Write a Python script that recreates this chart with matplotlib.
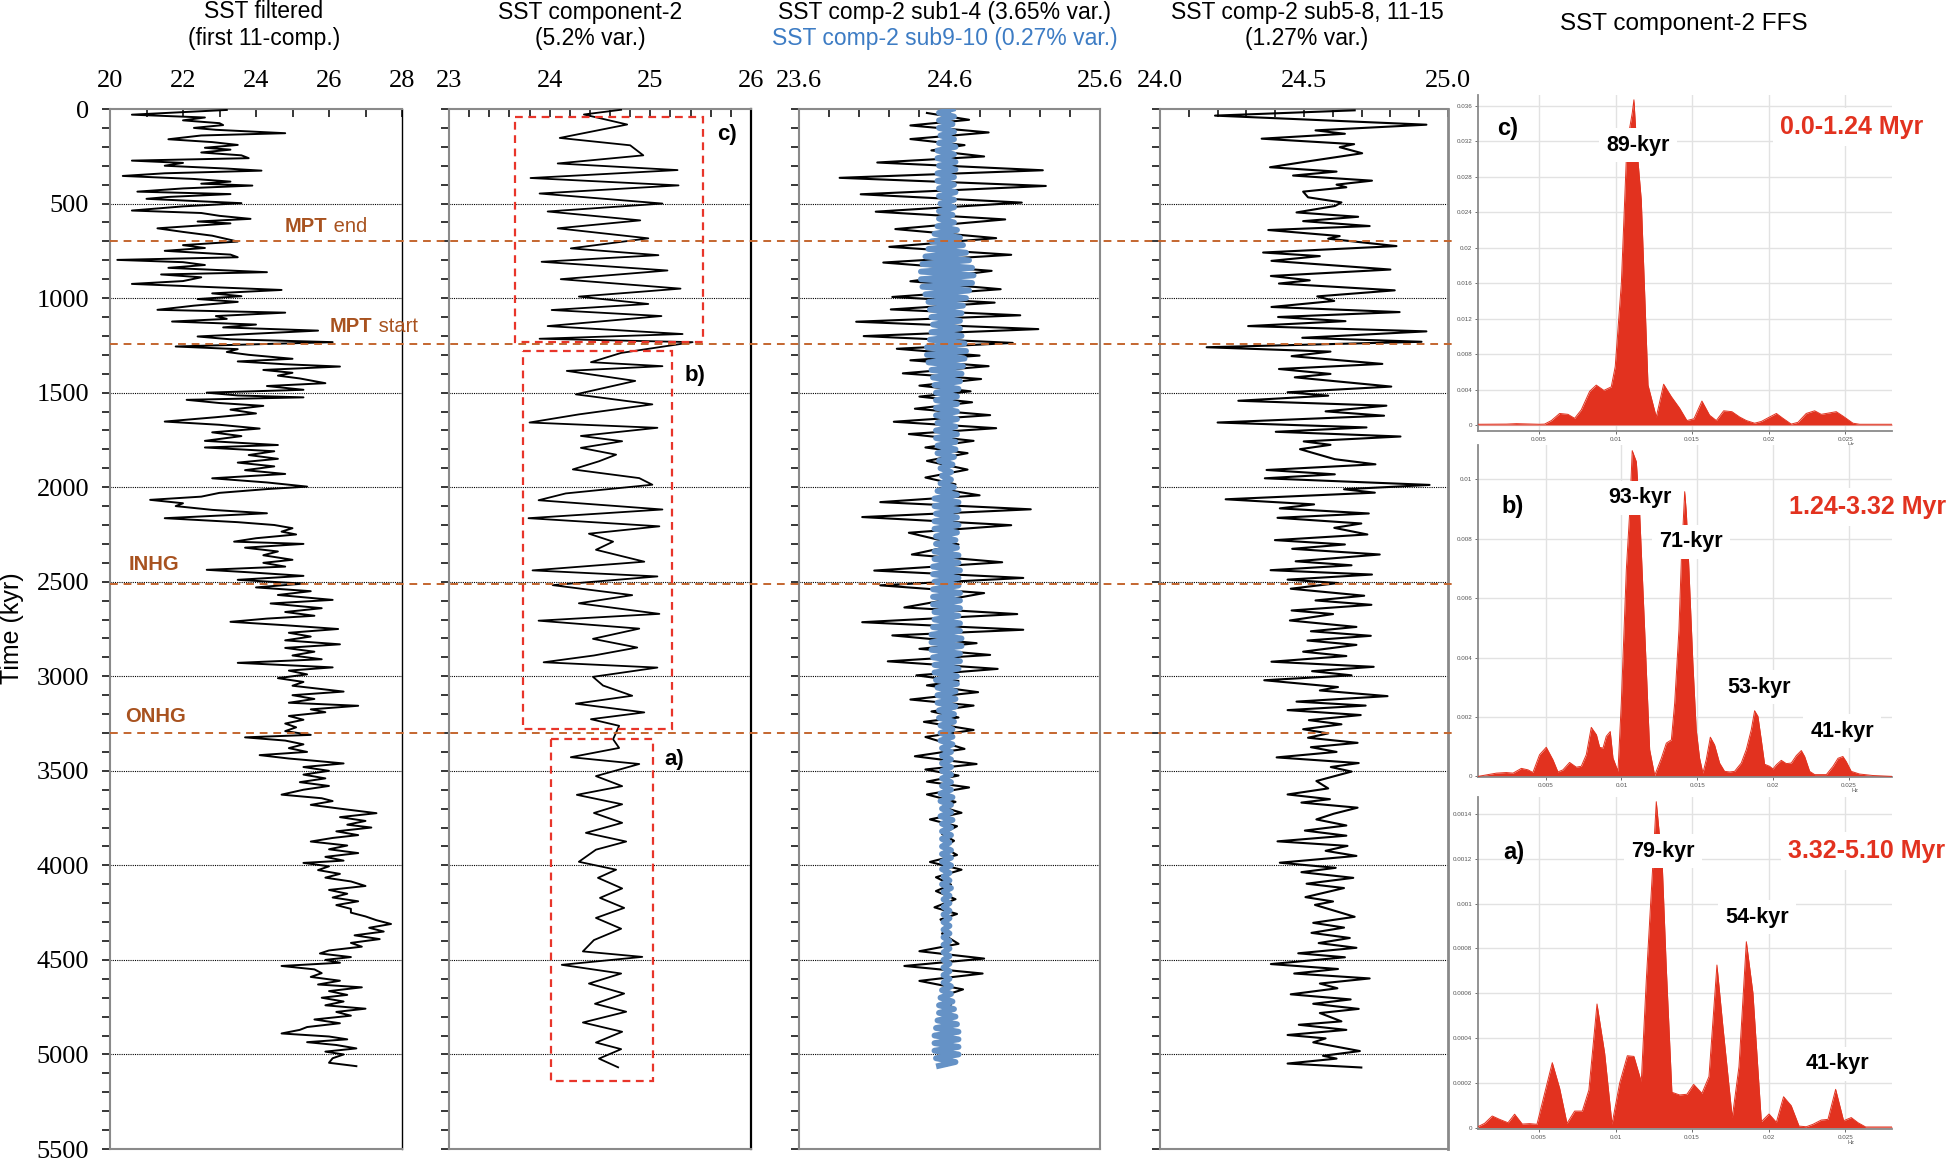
import numpy as np
import matplotlib
matplotlib.use('Agg')
import matplotlib.pyplot as plt
from matplotlib.lines import Line2D
from matplotlib.patches import Rectangle
from matplotlib.transforms import blended_transform_factory

# ---------------- data ----------------
# Panel 1: SST filtered (time kyr, SST degC)
sst_filtered = [(5, 23.2), (30, 20.6), (45, 22.6), (60, 22.0), (75, 23.0), (85, 23.1), (100, 22.3), (110, 22.9),
    (128, 24.8), (140, 22.5), (160, 21.6), (175, 22.8), (190, 23.5), (205, 22.6), (215, 23.3), (230, 22.5),
    (245, 23.6), (260, 23.8), (273, 20.6), (285, 22.0), (300, 21.5), (315, 23.2), (326, 24.15), (340, 21.5),
    (354, 20.35), (370, 22.3), (384, 23.3), (395, 22.5), (405, 23.9), (420, 22.0), (437, 20.75), (450, 23.3),
    (465, 21.6), (475, 21.0), (498, 23.6), (515, 22.0), (537, 20.6), (550, 22.5), (565, 23.0), (581, 23.85),
    (595, 22.4), (605, 23.3), (631, 21.3), (650, 22.0), (670, 22.8), (701, 23.5), (720, 22.0), (735, 22.6),
    (750, 21.5), (770, 23.3), (784, 23.5), (798, 20.2), (810, 22.0), (825, 22.6), (840, 21.6), (863, 24.3),
    (875, 21.4), (890, 22.5), (910, 22.0), (925, 20.6), (940, 22.5), (957, 24.7), (975, 22.8), (990, 23.6),
    (1005, 22.4), (1020, 23.5), (1040, 22.3), (1062, 21.3), (1077, 24.8), (1095, 22.9), (1110, 23.2),
    (1124, 21.7), (1140, 24.0), (1155, 23.1), (1172, 25.7), (1188, 24.0), (1203, 22.4), (1218, 23.3),
    (1233, 26.1), (1256, 21.8), (1270, 23.5), (1285, 23.2), (1300, 23.8), (1321, 25.0), (1335, 23.5),
    (1350, 24.8), (1362, 26.3), (1380, 24.2), (1395, 25.0), (1410, 24.6), (1425, 25.2), (1450, 25.9),
    (1465, 24.3), (1485, 25.3), (1500, 22.65), (1515, 23.5), (1525, 25.3), (1538, 22.1), (1555, 23.0),
    (1570, 24.2), (1590, 23.3), (1610, 24.0), (1630, 22.9), (1653, 21.5), (1670, 23.0), (1690, 24.1),
    (1710, 22.8), (1730, 23.6), (1755, 22.6), (1777, 24.6), (1790, 22.6), (1810, 24.5), (1830, 23.8),
    (1850, 24.6), (1870, 23.5), (1890, 24.5), (1910, 23.7), (1930, 24.8), (1953, 22.8), (1975, 24.3),
    (1997, 25.4), (2010, 24.3), (2030, 23.0), (2050, 22.5), (2067, 21.1), (2085, 22.0), (2100, 21.8),
    (2120, 22.8), (2138, 24.3), (2150, 23.0), (2164, 21.5), (2185, 23.5), (2200, 24.5), (2217, 25.0),
    (2235, 24.7), (2250, 25.1), (2270, 24.0), (2288, 23.4), (2300, 25.3), (2320, 23.7), (2340, 24.6),
    (2360, 24.2), (2384, 25.0), (2400, 24.2), (2420, 24.8), (2437, 22.65), (2450, 23.8), (2469, 25.3),
    (2490, 23.5), (2510, 25.3), (2530, 24.0), (2550, 25.5), (2570, 24.6), (2596, 26.1), (2615, 24.4),
    (2640, 25.8), (2660, 24.8), (2680, 25.6), (2695, 24.3), (2712, 23.3), (2730, 24.8), (2750, 26.25),
    (2770, 24.9), (2790, 25.5), (2810, 24.8), (2831, 26.3), (2850, 24.8), (2870, 25.6), (2890, 25.0),
    (2910, 25.8), (2929, 23.5), (2953, 26.1), (2970, 24.9), (2990, 25.4), (3010, 24.6), (3030, 25.3),
    (3050, 25.0), (3081, 26.4), (3100, 25.0), (3120, 25.6), (3140, 24.9), (3156, 26.8), (3175, 25.5),
    (3190, 25.9), (3210, 24.9), (3230, 25.3), (3250, 24.8), (3270, 25.1), (3290, 24.8), (3310, 25.5),
    (3323, 23.7), (3340, 24.8), (3360, 25.3), (3380, 24.9), (3400, 25.4), (3417, 24.1), (3435, 24.9),
    (3445, 25.5), (3461, 26.4), (3480, 25.3), (3500, 26.0), (3520, 25.3), (3540, 25.9), (3560, 25.2),
    (3580, 26.0), (3600, 25.3), (3626, 24.7), (3645, 25.8), (3660, 26.1), (3680, 25.5), (3700, 26.3),
    (3724, 27.3), (3745, 26.3), (3765, 27.0), (3785, 26.5), (3800, 27.16), (3820, 26.2), (3840, 26.8),
    (3855, 26.1), (3874, 25.5), (3895, 26.5), (3915, 26.0), (3935, 26.8), (3955, 25.9), (3975, 26.4),
    (3987, 25.3), (4005, 26.0), (4025, 25.7), (4045, 26.3), (4065, 25.9), (4085, 26.6), (4109, 27.0),
    (4130, 26.0), (4150, 26.5), (4170, 26.1), (4190, 26.8), (4210, 26.2), (4230, 26.6), (4250, 26.6),
    (4270, 27.0), (4290, 27.3), (4310, 27.7), (4330, 27.1), (4350, 27.5), (4370, 26.7), (4390, 27.39),
    (4410, 26.6), (4430, 26.9), (4450, 26.0), (4466, 25.75), (4485, 26.6), (4500, 25.9), (4515, 26.3),
    (4532, 24.7), (4550, 25.6), (4570, 25.8), (4590, 25.5), (4610, 26.3), (4630, 25.7), (4645, 26.9),
    (4665, 26.0), (4685, 26.5), (4700, 25.8), (4720, 26.4), (4740, 25.9), (4758, 27.0), (4775, 26.2),
    (4795, 26.6), (4815, 25.6), (4835, 26.3), (4855, 25.4), (4870, 25.2), (4889, 24.7), (4905, 26.0),
    (4920, 26.5), (4935, 25.4), (4950, 26.2), (4968, 26.75), (4985, 25.9), (5000, 26.4), (5020, 26.1),
    (5044, 26.0), (5062, 26.75)]

# Panel 2: SST component-2
comp2_t = [4, 29, 82, 153, 192, 245, 288, 323, 365, 404, 447, 500, 542, 589, 631, 684, 737, 773, 808, 854,
    900, 950, 992, 1031, 1063, 1095, 1148, 1190, 1215, 1233, 1290, 1339, 1360, 1385, 1438, 1509, 1562, 1615,
    1658, 1686, 1729, 1757, 1792, 1828, 1863, 1906, 1952, 1987, 2033, 2069, 2118, 2164, 2207, 2246, 2288,
    2331, 2394, 2440, 2472, 2518, 2571, 2614, 2670, 2706, 2748, 2802, 2848, 2890, 2926, 2954, 3003, 3049,
    3103, 3145, 3191, 3227, 3262, 3333, 3379, 3428, 3464, 3528, 3581, 3627, 3677, 3723, 3775, 3828, 3874,
    3917, 3981, 4023, 4066, 4122, 4172, 4225, 4278, 4335, 4395, 4455, 4484, 4526, 4572, 4625, 4678, 4732,
    4774, 4831, 4880, 4937, 4972, 5022, 5068]
comp2_v = [24.71, 24.34, 24.77, 24.10, 24.80, 24.93, 24.08, 25.27, 23.81, 25.28, 23.90, 25.12, 23.98, 24.90,
    24.08, 24.98, 24.21, 25.08, 23.92, 25.17, 24.11, 25.30, 24.29, 24.98, 24.02, 25.11, 23.98, 25.32, 23.90,
    25.42, 24.71, 24.41, 25.12, 24.17, 24.85, 24.26, 25.02, 24.29, 23.80, 25.07, 24.31, 24.72, 24.31, 24.66,
    24.49, 24.23, 24.89, 25.02, 24.16, 23.89, 25.12, 23.79, 25.09, 24.39, 24.63, 24.46, 24.94, 23.83, 25.07,
    24.03, 24.82, 24.29, 25.09, 23.89, 24.89, 24.43, 24.87, 24.44, 23.94, 25.07, 24.43, 24.53, 24.82, 24.26,
    24.94, 24.41, 24.69, 24.63, 24.69, 24.21, 24.89, 24.46, 24.72, 24.27, 24.72, 24.44, 24.72, 24.36, 24.76,
    24.46, 24.29, 24.66, 24.48, 24.72, 24.50, 24.74, 24.46, 24.71, 24.44, 24.33, 24.92, 24.12, 24.71, 24.39,
    24.74, 24.45, 24.76, 24.33, 24.72, 24.46, 24.71, 24.49, 24.68]

# Panel 3: sub1-4 (black)
sub14_t = [21, 57, 87, 124, 159, 191, 219, 251, 283, 324, 364, 407, 451, 495, 543, 584, 635, 683, 729, 771,
    812, 856, 911, 953, 994, 1024, 1060, 1091, 1125, 1164, 1201, 1237, 1268, 1304, 1329, 1360, 1398, 1428,
    1463, 1493, 1521, 1551, 1585, 1619, 1654, 1688, 1719, 1755, 1790, 1820, 1861, 1907, 1949, 1985, 2008,
    2043, 2079, 2117, 2158, 2201, 2241, 2303, 2356, 2397, 2441, 2480, 2519, 2560, 2636, 2671, 2714, 2754,
    2784, 2825, 2855, 2887, 2921, 2961, 2995, 3025, 3048, 3084, 3123, 3155, 3186, 3218, 3241, 3284, 3321,
    3384, 3423, 3464, 3493, 3525, 3557, 3588, 3625, 3664, 3691, 3722, 3757, 3793, 3834, 3870, 3905, 3945,
    3982, 4023, 4063, 4102, 4136, 4179, 4222, 4257, 4286, 4325, 4361, 4415, 4454, 4493, 4532, 4572, 4611,
    4656, 4697, 4736, 4781, 4825, 4870, 4915, 4959, 5004, 5057]
sub14_v = [24.45, 24.73, 24.34, 24.86, 24.34, 24.70, 24.48, 24.83, 24.12, 25.22, 23.87, 25.24, 24.01, 25.08,
    24.11, 24.97, 24.24, 24.91, 24.20, 25.01, 24.16, 24.88, 24.34, 24.94, 24.22, 24.90, 24.21, 25.07, 23.98,
    25.19, 24.03, 25.02, 24.25, 24.80, 24.34, 24.86, 24.29, 24.81, 24.40, 24.74, 24.40, 24.75, 24.37, 24.87,
    24.23, 24.91, 24.33, 24.76, 24.44, 24.72, 24.45, 24.72, 24.44, 24.64, 24.53, 24.80, 24.14, 25.14, 24.02,
    25.01, 24.33, 24.66, 24.35, 24.95, 24.10, 25.09, 24.14, 24.83, 24.30, 25.05, 24.02, 25.09, 24.22, 24.78,
    24.40, 24.87, 24.19, 24.92, 24.38, 24.66, 24.45, 24.79, 24.34, 24.76, 24.48, 24.66, 24.43, 24.76, 24.44,
    24.70, 24.37, 24.78, 24.44, 24.66, 24.45, 24.73, 24.45, 24.64, 24.55, 24.68, 24.47, 24.65, 24.55, 24.63,
    24.56, 24.65, 24.47, 24.68, 24.51, 24.61, 24.51, 24.64, 24.50, 24.65, 24.54, 24.60, 24.55, 24.66, 24.40,
    24.83, 24.30, 24.82, 24.40, 24.69, 24.53, 24.61, 24.56, 24.60, 24.56, 24.60, 24.56, 24.60, 24.58]

# Panel 3: sub9-10 (blue), turning points every 20 kyr, deviation from its mean level
sub910_step = 20
sub910_mean = 24.58
sub910_dev = [
    0.04, -0.05, 0.05, -0.05, 0.04, -0.05, 0.05, -0.04, 0.05, -0.05,
    0.06, -0.06, 0.05, -0.06, 0.06, -0.05, 0.06, -0.06, 0.05, -0.06,
    0.05, -0.05, 0.06, -0.05, 0.05, -0.04, 0.05, -0.05, 0.04, -0.05,
    0.05, -0.06, 0.07, -0.08, 0.09, -0.10, 0.11, -0.12, 0.13, -0.14,
    0.15, -0.16, 0.17, -0.17, 0.18, -0.17, 0.17, -0.16, 0.15, -0.14,
    0.13, -0.12, 0.11, -0.11, 0.10, -0.10, 0.09, -0.09, 0.09, -0.10,
    0.10, -0.11, 0.12, -0.13, 0.13, -0.13, 0.12, -0.12, 0.11, -0.10,
    0.10, -0.09, 0.09, -0.08, 0.08, -0.07, 0.07, -0.07, 0.07, -0.07,
    0.07, -0.07, 0.07, -0.06, 0.06, -0.07, 0.07, -0.07, 0.06, -0.06,
    0.06, -0.06, 0.05, -0.05, 0.04, -0.04, 0.03, -0.03, 0.03, -0.04,
    0.05, -0.06, 0.07, -0.08, 0.08, -0.08, 0.08, -0.07, 0.07, -0.08,
    0.08, -0.08, 0.07, -0.07, 0.06, -0.07, 0.07, -0.08, 0.08, -0.08,
    0.08, -0.09, 0.09, -0.09, 0.08, -0.08, 0.08, -0.09, 0.09, -0.09,
    0.09, -0.09, 0.09, -0.08, 0.08, -0.08, 0.09, -0.09, 0.09, -0.10,
    0.10, -0.10, 0.10, -0.10, 0.09, -0.09, 0.09, -0.08, 0.08, -0.08,
    0.07, -0.07, 0.07, -0.06, 0.06, -0.06, 0.06, -0.06, 0.06, -0.05,
    0.05, -0.05, 0.05, -0.04, 0.04, -0.04, 0.04, -0.04, 0.04, -0.03,
    0.03, -0.03, 0.03, -0.03, 0.03, -0.03, 0.03, -0.03, 0.03, -0.03,
    0.03, -0.04, 0.04, -0.04, 0.03, -0.03, 0.03, -0.04, 0.04, -0.03,
    0.03, -0.03, 0.03, -0.03, 0.02, -0.03, 0.03, -0.03, 0.03, -0.03,
    0.03, -0.03, 0.02, -0.02, 0.02, -0.03, 0.03, -0.02, 0.02, -0.02,
    0.02, -0.02, 0.02, -0.02, 0.02, -0.02, 0.02, -0.02, 0.02, -0.02,
    0.02, -0.02, 0.02, -0.02, 0.02, -0.02, 0.02, -0.02, 0.02, -0.02,
    0.02, -0.02, 0.03, -0.03, 0.03, -0.04, 0.04, -0.05, 0.05, -0.05,
    0.06, -0.06, 0.07, -0.07, 0.08, -0.08, 0.08, -0.08, 0.08, -0.08,
    0.08, -0.07, 0.06, -0.05]

# Panel 4: sub5-8, 11-15
sub58_t = [7, 35, 83, 113, 131, 157, 186, 202, 234, 278, 308, 331, 352, 379, 400, 414, 437, 467, 494, 513,
    547, 570, 593, 619, 640, 672, 686, 725, 759, 778, 803, 849, 883, 906, 923, 959, 991, 1015, 1047, 1074,
    1100, 1122, 1148, 1176, 1210, 1231, 1260, 1283, 1307, 1348, 1375, 1401, 1419, 1468, 1498, 1516, 1543,
    1569, 1599, 1622, 1658, 1684, 1707, 1732, 1758, 1776, 1799, 1852, 1879, 1909, 1932, 1953, 1988, 2011,
    2029, 2064, 2091, 2112, 2139, 2162, 2192, 2215, 2250, 2280, 2303, 2326, 2356, 2392, 2413, 2439, 2462,
    2489, 2507, 2537, 2574, 2599, 2622, 2652, 2671, 2705, 2739, 2762, 2786, 2811, 2834, 2870, 2893, 2923,
    2950, 2973, 2995, 3021, 3057, 3075, 3105, 3134, 3155, 3179, 3205, 3232, 3254, 3280, 3302, 3325, 3352,
    3375, 3400, 3429, 3459, 3480, 3504, 3554, 3593, 3625, 3650, 3668, 3695, 3727, 3757, 3789, 3816, 3843,
    3873, 3897, 3923, 3950, 3986, 4013, 4036, 4066, 4097, 4120, 4168, 4191, 4209, 4272, 4304, 4329, 4357,
    4384, 4411, 4436, 4465, 4486, 4522, 4548, 4572, 4598, 4625, 4650, 4682, 4709, 4732, 4759, 4781, 4825,
    4843, 4870, 4897, 4915, 4936, 4982, 5007, 5022, 5048, 5069]
sub58_v = [24.676, 24.191, 24.925, 24.540, 24.642, 24.353, 24.674, 24.624, 24.702, 24.509,
    24.382, 24.613, 24.462, 24.736, 24.613, 24.647, 24.497, 24.514, 24.630, 24.607,
    24.474, 24.688, 24.497, 24.728, 24.376, 24.624, 24.584, 24.821, 24.358, 24.555,
    24.387, 24.800, 24.385, 24.520, 24.413, 24.815, 24.546, 24.605, 24.387, 24.832,
    24.410, 24.644, 24.306, 24.925, 24.494, 24.908, 24.162, 24.592, 24.457, 24.772,
    24.413, 24.592, 24.468, 24.803, 24.443, 24.584, 24.272, 24.786, 24.575, 24.778,
    24.200, 24.717, 24.402, 24.835, 24.499, 24.592, 24.486, 24.607, 24.748, 24.370,
    24.607, 24.364, 24.936, 24.639, 24.746, 24.228, 24.535, 24.416, 24.725, 24.408,
    24.699, 24.605, 24.720, 24.399, 24.642, 24.459, 24.763, 24.471, 24.665, 24.384,
    24.736, 24.443, 24.618, 24.454, 24.709, 24.540, 24.734, 24.457, 24.601, 24.451,
    24.682, 24.524, 24.732, 24.512, 24.682, 24.497, 24.647, 24.387, 24.742, 24.528,
    24.665, 24.362, 24.618, 24.555, 24.790, 24.474, 24.714, 24.443, 24.697, 24.517,
    24.630, 24.497, 24.584, 24.514, 24.686, 24.524, 24.613, 24.405, 24.690, 24.593,
    24.665, 24.543, 24.584, 24.443, 24.590, 24.491, 24.686, 24.603, 24.543, 24.647,
    24.503, 24.647, 24.408, 24.651, 24.575, 24.682, 24.416, 24.610, 24.491, 24.671,
    24.509, 24.639, 24.505, 24.601, 24.538, 24.676, 24.532, 24.639, 24.526, 24.659,
    24.551, 24.682, 24.480, 24.642, 24.385, 24.618, 24.466, 24.728, 24.555, 24.616,
    24.454, 24.662, 24.532, 24.690, 24.555, 24.630, 24.482, 24.647, 24.443, 24.575,
    24.532, 24.694, 24.566, 24.613, 24.443, 24.699]

# Event lines (kyr)
event_names = ['MPT end', 'MPT start', 'INHG', 'ONHG']
event_times = [700, 1245, 2512, 3300]

# Red boxes on component-2 (x0, x1, t0, t1)
box_labels = ['c)', 'b)', 'a)']
box_x = [(23.66, 25.52), (23.74, 25.22), (24.01, 25.03)]
box_t = [(40, 1234), (1280, 3281), (3333, 5138)]

# Spectra (frequency, power)
c_freq = [0.00102, 0.00287, 0.00352, 0.00504, 0.00537, 0.00581, 0.00635, 0.00689, 0.00733, 0.00776,
    0.00831, 0.00874, 0.00924, 0.00972, 0.00998, 0.01038, 0.01070, 0.01092, 0.01109, 0.01120,
    0.01131, 0.01146, 0.01168, 0.01212, 0.01266, 0.01314, 0.01364, 0.01418, 0.01466, 0.01512,
    0.01564, 0.01614, 0.01658, 0.01706, 0.01760, 0.01810, 0.01854, 0.01908, 0.01952, 0.01995,
    0.02050, 0.02093, 0.02147, 0.02191, 0.02245, 0.02300, 0.02343, 0.02441, 0.02485, 0.02550,
    0.02594, 0.02805]
c_pow = [0.00008, 0.0001, 0.00015, 0.00008, 0.0001, 0.0005, 0.0013, 0.0012, 0.00075, 0.0017,
    0.0038, 0.0045, 0.0039, 0.0043, 0.0066, 0.0160, 0.0299, 0.0335, 0.0352, 0.0367,
    0.0335, 0.0299, 0.0254, 0.0045, 0.0009, 0.0046, 0.0032, 0.0019, 0.0005, 0.0007,
    0.0027, 0.0011, 0.0005, 0.0016, 0.0015, 0.0009, 0.0005, 0.0002, 0.0004, 0.0008,
    0.0013, 0.00075, 0.0001, 0.0003, 0.0013, 0.0016, 0.0012, 0.0015, 0.0010, 0.0002,
    0.00008, 0.00008]
b_freq = [0.00054, 0.00175, 0.00241, 0.00285, 0.00340, 0.00384, 0.00416, 0.00460, 0.00504, 0.00548,
    0.00581, 0.00614, 0.00658, 0.00702, 0.00735, 0.00768, 0.00801, 0.00835, 0.00856, 0.00878,
    0.00900, 0.00926, 0.00944, 0.00977, 0.00999, 0.01032, 0.01054, 0.01071, 0.01098, 0.01120,
    0.01153, 0.01186, 0.01219, 0.01263, 0.01296, 0.01329, 0.01351, 0.01379, 0.01395, 0.01417,
    0.01428, 0.01445, 0.01471, 0.01493, 0.01515, 0.01537, 0.01559, 0.01586, 0.01614, 0.01647,
    0.01680, 0.01713, 0.01746, 0.01790, 0.01823, 0.01856, 0.01878, 0.01900, 0.01922, 0.01944,
    0.01977, 0.01999, 0.02021, 0.02054, 0.02087, 0.02120, 0.02153, 0.02186, 0.02208, 0.02241,
    0.02274, 0.02351, 0.02395, 0.02428, 0.02460, 0.02482, 0.02515, 0.02570, 0.02658, 0.02784]
b_pow = [0.0, 0.00011, 0.00013, 0.00011, 0.00027, 0.00022, 0.00013, 0.00073, 0.00098, 0.00056,
    0.00015, 0.00022, 0.00047, 0.00031, 0.00034, 0.00073, 0.00165, 0.00140, 0.00098, 0.00095,
    0.00135, 0.00151, 0.00062, 0.00017, 0.00247, 0.00695, 0.00886, 0.01096, 0.01059, 0.00886,
    0.00493, 0.00090, 0.00003, 0.00061, 0.00112, 0.00123, 0.00247, 0.00493, 0.00729, 0.00958,
    0.00886, 0.00695, 0.00381, 0.00157, 0.00062, 0.00011, 0.00056, 0.00132, 0.00106, 0.00045,
    0.00017, 0.00015, 0.00017, 0.00045, 0.00090, 0.00157, 0.00221, 0.00202, 0.00123, 0.00041,
    0.00034, 0.00025, 0.00039, 0.00054, 0.00043, 0.00045, 0.00070, 0.00087, 0.00067, 0.00017,
    0.00006, 0.00006, 0.00034, 0.00061, 0.00067, 0.00050, 0.00017, 0.00008, 0.00003, 0.0]
a_freq = [0.00102, 0.00145, 0.00195, 0.00243, 0.00298, 0.00341, 0.00391, 0.00439, 0.00487, 0.00537,
    0.00587, 0.00635, 0.00683, 0.00733, 0.00783, 0.00826, 0.00879, 0.00929, 0.00977, 0.01027,
    0.01077, 0.01120, 0.01168, 0.01201, 0.01244, 0.01266, 0.01305, 0.01331, 0.01368, 0.01418,
    0.01466, 0.01510, 0.01564, 0.01610, 0.01662, 0.01701, 0.01762, 0.01806, 0.01854, 0.01897,
    0.01952, 0.02002, 0.02050, 0.02097, 0.02147, 0.02198, 0.02245, 0.02289, 0.02343, 0.02387,
    0.02437, 0.02489, 0.02539, 0.02583, 0.02633, 0.02805]
a_pow = [0.0000045, 0.0000193, 0.000052, 0.000037, 0.000022, 0.000060, 0.000016, 0.000018, 0.000015, 0.000153,
    0.000290, 0.000176, 0.000019, 0.000074, 0.000074, 0.000168, 0.000552, 0.000332, 0.000016, 0.000199,
    0.000321, 0.000318, 0.000205, 0.000661, 0.001180, 0.001455, 0.001173, 0.000719, 0.000158, 0.000146,
    0.000149, 0.000193, 0.000153, 0.000228, 0.000726, 0.000451, 0.000045, 0.000273, 0.000830, 0.000601,
    0.000027, 0.000061, 0.000024, 0.000138, 0.000098, 0.000007, 0.000004, 0.000015, 0.000034, 0.000037,
    0.000171, 0.000031, 0.000045, 0.000022, 0.000003, 0.000003]

spec_peaks_c = ['89-kyr']
spec_peaks_b = ['93-kyr', '71-kyr', '53-kyr', '41-kyr']
spec_peaks_a = ['79-kyr', '54-kyr', '41-kyr']
spec_ranges = ['0.0-1.24 Myr', '1.24-3.32 Myr', '3.32-5.10 Myr']

# ---------------- figure ----------------
W, H = 1946, 1158
SANS = ['Liberation Sans', 'DejaVu Sans']
SERIF = ['Liberation Serif', 'DejaVu Serif']
plt.rcParams['font.family'] = SERIF
fig = plt.figure(figsize=(W / 100, H / 100), dpi=100)

BROWN_LINE = '#c4662f'
BROWN_TXT = '#a8521f'
RED = '#e2321f'
BOXRED = '#e8352a'
BLUE_LINE = '#6592c6'
BLUE_TXT = '#3d7cc4'
SPINE = '#8a8a8a'
TICKFS = 19


def ax_px(l, t, r, b):
    return fig.add_axes([l / W, 1 - b / H, (r - l) / W, (b - t) / H])


def ftext(x, y, s, **kw):
    return fig.text(x / W, 1 - y / H, s, **kw)


def setup_ts(ax, xlim, majors, labels, minor_step, ylabels=False, right_color=SPINE, right_lw=1.5):
    ax.set_xlim(*xlim)
    ax.set_ylim(5500, 0)
    ax.xaxis.set_ticks_position('top')
    ax.set_xticks(majors)
    ax.set_xticklabels(labels, fontfamily=SERIF, fontsize=TICKFS)
    ax.set_xticks(np.arange(xlim[0], xlim[1] + 1e-9, minor_step), minor=True)
    ax.tick_params(axis='x', which='both', direction='in', length=6, width=1.1, color='k',
                   top=True, bottom=False, labeltop=True, labelbottom=False, pad=12)
    ax.set_yticks(np.arange(0, 5501, 500))
    ax.set_yticks(np.arange(0, 5501, 100), minor=True)
    ax.tick_params(axis='y', which='both', direction='out', length=6, width=1.1, color='k',
                   left=True, right=False, labelleft=ylabels, pad=9)
    if ylabels:
        ax.set_yticklabels([str(v) for v in range(0, 5501, 500)], fontfamily=SERIF, fontsize=TICKFS)
    for t in range(500, 5001, 500):
        ax.axhline(t, color='k', lw=0.8, ls=(0, (1, 1)), zorder=1)
    for s in ['left', 'top', 'bottom']:
        ax.spines[s].set_color(SPINE)
        ax.spines[s].set_linewidth(1.5)
    ax.spines['right'].set_color(right_color)
    ax.spines['right'].set_linewidth(right_lw)


ax1 = ax_px(110, 109, 402, 1149)
ax2 = ax_px(449, 109, 751, 1149)
ax3 = ax_px(799, 109, 1100, 1149)
ax4 = ax_px(1160, 109, 1448, 1149)

setup_ts(ax1, (20, 28), [20, 22, 24, 26, 28], ['20', '22', '24', '26', '28'], 1, ylabels=True,
         right_color='k', right_lw=1.0)
setup_ts(ax2, (23, 26), [23, 24, 25, 26], ['23', '24', '25', '26'], 0.2, right_color='k', right_lw=1.6)
setup_ts(ax3, (23.6, 25.6), [23.6, 24.6, 25.6], ['23.6', '24.6', '25.6'], 0.2)
setup_ts(ax4, (24.0, 25.0), [24.0, 24.5, 25.0], ['24.0', '24.5', '25.0'], 0.1, right_lw=2.0)

t1 = [p[0] for p in sst_filtered]
v1 = [p[1] for p in sst_filtered]
ax1.plot(v1, t1, color='k', lw=1.4, zorder=3)
ax2.plot(comp2_v, comp2_t, color='k', lw=1.3, zorder=3)
ax3.plot(sub14_v, sub14_t, color='k', lw=1.5, zorder=3)
blue_t = np.arange(len(sub910_dev)) * sub910_step
ax3.plot(sub910_mean + np.array(sub910_dev), blue_t, color=BLUE_LINE, lw=4.2, zorder=4,
         solid_joinstyle='round')
ax4.plot(sub58_v, sub58_t, color='k', lw=1.5, zorder=3)

# red dashed boxes + labels
box_lab_pos = [(25.76, 137), (25.44, 1411), (25.24, 3442)]
for lab, (x0, x1), (y0, y1), (lx, ly) in zip(box_labels, box_x, box_t, box_lab_pos):
    ax2.add_patch(Rectangle((x0, y0), x1 - x0, y1 - y0, fill=False, ec=BOXRED, lw=1.6,
                            ls=(0, (3.5, 2.5)), zorder=5))
    ax2.text(lx, ly, lab, ha='center', va='center', fontsize=16, fontweight='bold',
             family=SANS, color='k', zorder=6)

ftext(12, 628, 'Time (kyr)', rotation=90, ha='center', va='center', fontsize=18, family=SANS)

# event lines across panels
tr = blended_transform_factory(fig.transFigure, ax1.transData)
for t in event_times:
    fig.add_artist(Line2D([110 / W, 1455 / W], [t, t], transform=tr, color=BROWN_LINE,
                          lw=1.4, ls=(0, (4, 3)), zorder=10))

ev_pos = [(285, 226), (330, 327), (129, 564), (125, 716)]
for name, (x, y) in zip(event_names, ev_pos):
    parts = name.split(' ', 1)
    tb = ftext(x, y, parts[0], fontsize=14.5, fontweight='bold', color=BROWN_TXT, family=SANS,
               ha='left', va='center', zorder=11)
    if len(parts) > 1:
        ax1.annotate(' ' + parts[1], xy=(1, 0), xycoords=tb, ha='left', va='bottom', fontsize=14.5,
                     color=BROWN_TXT, family=SANS, annotation_clip=False, zorder=11)

# titles
tkw = dict(ha='center', va='center', fontsize=16.5, family=SANS)
ftext(264, 12, 'SST filtered', **tkw)
ftext(264, 38, '(first 11-comp.)', **tkw)
ftext(590, 12, 'SST component-2', **tkw)
ftext(590, 38, '(5.2% var.)', **tkw)
ftext(944, 12, 'SST comp-2 sub1-4 (3.65% var.)', **tkw)
ftext(945, 38, 'SST comp-2 sub9-10 (0.27% var.)', color=BLUE_TXT, **tkw)
ftext(1307, 12, 'SST comp-2 sub5-8, 11-15', **tkw)
ftext(1307, 38, '(1.27% var.)', **tkw)
ftext(1684, 24, 'SST component-2 FFS', ha='center', va='center', fontsize=17.5, family=SANS)


# spectra
def setup_spec(ax, xlim, ylim, yt, ylab):
    ax.set_xlim(*xlim)
    ax.set_ylim(*ylim)
    ax.set_xticks([0.005, 0.01, 0.015, 0.02, 0.025])
    ax.set_xticklabels(['0.005', '0.01', '0.015', '0.02', '0.025'], fontfamily=SANS)
    ax.set_yticks(yt)
    ax.set_yticklabels(ylab, fontfamily=SANS)
    ax.tick_params(labelsize=4.5, colors='#555555', length=2, width=0.6, pad=2)
    ax.grid(True, color='#e2e2e2', lw=1.0)
    ax.set_axisbelow(True)
    for s in ['top', 'right']:
        ax.spines[s].set_visible(False)
    for s in ['left', 'bottom']:
        ax.spines[s].set_color(SPINE)
        ax.spines[s].set_linewidth(1.3)
    ax.annotate('Hz', xy=(0.0254, 0), xycoords=('data', 'axes fraction'), xytext=(0, -11),
                textcoords='offset points', fontsize=4, color='#555555', ha='center', family=SANS)


axc = ax_px(1478, 95, 1892, 431)
axb = ax_px(1478, 445, 1892, 777)
axa = ax_px(1478, 797, 1892, 1129)

setup_spec(axc, (0.00102, 0.02805), (-0.00068, 0.03724), np.arange(0, 0.0361, 0.004),
           ['0', '0.004', '0.008', '0.012', '0.016', '0.02', '0.024', '0.028', '0.032', '0.036'])
setup_spec(axb, (0.00054, 0.02784), (-0.00002, 0.01115), np.arange(0, 0.01001, 0.002),
           ['0', '0.002', '0.004', '0.006', '0.008', '0.01'])
setup_spec(axa, (0.00102, 0.02805), (-0.000006, 0.001476), np.arange(0, 0.001401, 0.0002),
           ['0', '0.0002', '0.0004', '0.0006', '0.0008', '0.001', '0.0012', '0.0014'])

for ax, f, p in [(axc, c_freq, c_pow), (axb, b_freq, b_pow), (axa, a_freq, a_pow)]:
    ax.fill_between(f, 0, p, color=RED, lw=0, zorder=2)
    ax.plot(f, p, color=RED, lw=0.7, zorder=3)

white = dict(facecolor='white', edgecolor='none', pad=5)
pk = dict(ha='center', va='center', fontsize=15.5, fontweight='bold', family=SANS, color='k',
          bbox=white, zorder=20)
let = dict(ha='center', va='center', fontsize=17, fontweight='bold', family=SANS, color='k', zorder=20)
rng = dict(va='center', fontsize=18, fontweight='bold', family=SANS, color=RED, bbox=white, zorder=20)

ftext(1508, 128, 'c)', **let)
ftext(1638, 145, spec_peaks_c[0], **pk)
ftext(1852, 127, spec_ranges[0], ha='center', **rng)

ftext(1513, 507, 'b)', **let)
for s, (x, y) in zip(spec_peaks_b, [(1640, 498), (1691, 542), (1759, 687), (1842, 731)]):
    ftext(x, y, s, **pk)
ftext(1946, 507, spec_ranges[1], ha='right', **rng)

ftext(1514, 852, 'a)', **let)
for s, (x, y) in zip(spec_peaks_a, [(1663, 851), (1757, 917), (1837, 1064)]):
    ftext(x, y, s, **pk)
ftext(1945, 851, spec_ranges[2], ha='right', **rng)

fig.savefig('out.png', dpi=100)
